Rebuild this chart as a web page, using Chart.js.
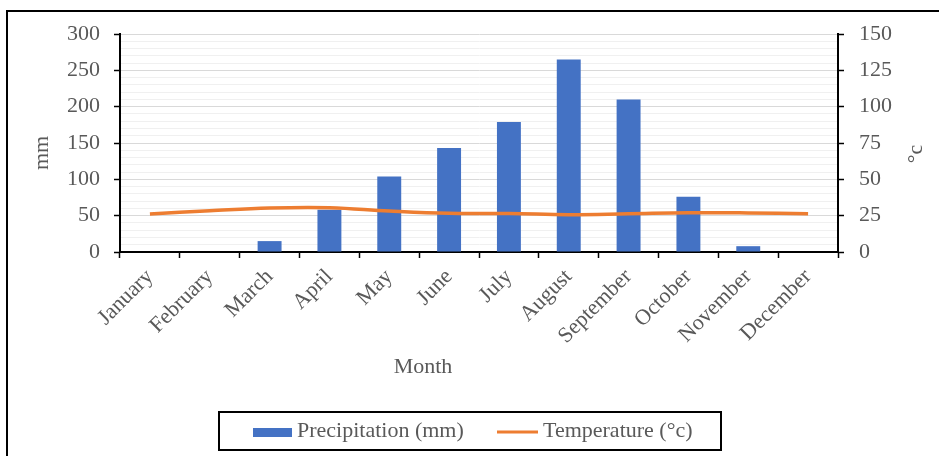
<!DOCTYPE html>
<html>
<head>
<meta charset="utf-8">
<title>Monthly precipitation and temperature</title>
<script src="https://cdn.jsdelivr.net/npm/chart.js@4.4.1/dist/chart.umd.min.js"></script>
<style>
  html, body { margin: 0; padding: 0; background: #fff; }
  #wrap { width: 939px; height: 456px; }
</style>
</head>
<body>
<div id="wrap"><canvas id="chart" width="939" height="456"></canvas></div>
<script>
// Monthly climate data
const months = ['January', 'February', 'March', 'April', 'May', 'June',
                'July', 'August', 'September', 'October', 'November', 'December'];
const precipitationMm = [0, 0, 15, 58, 104, 143, 179, 265, 210, 76, 8, 0];
const temperatureC = [26.2, 28.4, 30.3, 30.5, 28.2, 26.6, 26.5, 25.7, 26.3, 27.0, 26.9, 26.4];

// Axis ranges and titles
const mmRange = [0, 300];
const mmMajorStep = 50;
const mmMinorStep = 10;
const tempRange = [0, 150];
const tempStep = 25;
const seriesNames = ['Precipitation (mm)', 'Temperature (°c)'];
const axisTitles = { left: 'mm', right: '°c', bottom: 'Month' };

const FONT = "'Liberation Serif', 'Times New Roman', serif";
const TEXT = '#595959';
const BAR_BLUE = '#4472C4';
const LINE_ORANGE = '#ED7D31';

Chart.defaults.font.family = FONT;
Chart.defaults.color = TEXT;

// Page frame: thin black rule on the left and top edges
const framePlugin = {
  id: 'frame',
  beforeDraw(chart) {
    const { ctx, width, height } = chart;
    ctx.save();
    ctx.fillStyle = '#fff';
    ctx.fillRect(0, 0, width, height);
    ctx.strokeStyle = '#000';
    ctx.lineWidth = 2;
    ctx.beginPath();
    ctx.moveTo(7, height);
    ctx.lineTo(7, 11);
    ctx.lineTo(width, 11);
    ctx.stroke();
    ctx.restore();
  }
};

// Axis titles, both vertical ones read bottom-to-top
const axisTitlePlugin = {
  id: 'axisTitles',
  afterDraw(chart) {
    const { ctx } = chart;
    ctx.save();
    ctx.fillStyle = TEXT;
    ctx.font = '22px ' + FONT;
    ctx.textAlign = 'center';
    ctx.textBaseline = 'alphabetic';

    ctx.save();
    ctx.translate(48, 153);
    ctx.rotate(-Math.PI / 2);
    ctx.fillText(axisTitles.left, 0, 0);
    ctx.restore();

    ctx.save();
    ctx.translate(922, 154);
    ctx.rotate(-Math.PI / 2);
    ctx.fillText(axisTitles.right, 0, 0);
    ctx.restore();

    ctx.fillText(axisTitles.bottom, 423, 373);
    ctx.restore();
  }
};

// Boxed legend below the plot: bar series first, then the line series
const legendBoxPlugin = {
  id: 'legendBox',
  afterDraw(chart) {
    const { ctx } = chart;
    const ds = chart.data.datasets;
    const bars = ds.find(d => d.type === 'bar');
    const line = ds.find(d => d.type === 'line');
    ctx.save();
    ctx.strokeStyle = '#000';
    ctx.lineWidth = 2;
    ctx.strokeRect(219, 412, 502, 38);

    ctx.fillStyle = bars.backgroundColor;
    ctx.fillRect(253, 428, 39, 9);

    ctx.strokeStyle = line.borderColor;
    ctx.lineWidth = 3;
    ctx.beginPath();
    ctx.moveTo(497, 432);
    ctx.lineTo(538, 432);
    ctx.stroke();

    ctx.fillStyle = TEXT;
    ctx.font = '22px ' + FONT;
    ctx.textAlign = 'left';
    ctx.textBaseline = 'alphabetic';
    ctx.fillText(bars.label, 297, 437);
    ctx.fillText(line.label, 543, 437);
    ctx.restore();
  }
};

new Chart(document.getElementById('chart'), {
  type: 'bar',
  data: {
    labels: months,
    datasets: [
      {
        type: 'bar',
        label: seriesNames[0],
        data: precipitationMm,
        yAxisID: 'y',
        backgroundColor: BAR_BLUE,
        borderWidth: 0,
        barPercentage: 0.4,
        categoryPercentage: 1.0,
        order: 1
      },
      {
        type: 'line',
        label: seriesNames[1],
        data: temperatureC,
        yAxisID: 'y1',
        borderColor: LINE_ORANGE,
        backgroundColor: LINE_ORANGE,
        borderWidth: 3.5,
        pointRadius: 0,
        pointHoverRadius: 0,
        tension: 0.4,
        fill: false,
        order: 0
      }
    ]
  },
  options: {
    responsive: false,
    animation: false,
    devicePixelRatio: 1,
    layout: { padding: { top: 34, left: 0, right: 0, bottom: 0 } },
    plugins: {
      legend: { display: false },
      tooltip: { enabled: false },
      title: { display: false }
    },
    scales: {
      x: {
        type: 'category',
        offset: true,
        afterFit(scale) { scale.height = 204; },
        grid: {
          offset: true,
          drawOnChartArea: false,
          drawTicks: true,
          tickLength: 6,
          tickColor: '#000',
          tickWidth: 1.5
        },
        border: { display: true, color: '#000', width: 2 },
        ticks: {
          autoSkip: false,
          minRotation: 45,
          maxRotation: 45,
          padding: 6,
          color: TEXT,
          font: { size: 22, family: FONT }
        }
      },
      y: {
        position: 'left',
        min: mmRange[0],
        max: mmRange[1],
        afterFit(scale) { scale.width = 120; },
        grid: {
          color: ctx => (ctx.tick && ctx.tick.value % mmMajorStep === 0) ? '#d9d9d9' : '#f0f0f0',
          lineWidth: 1,
          drawTicks: true,
          tickLength: 6,
          tickWidth: 1.5,
          tickColor: ctx => (ctx.tick && ctx.tick.value % mmMajorStep === 0) ? '#000' : 'rgba(0,0,0,0)'
        },
        border: { display: true, color: '#000', width: 2 },
        ticks: {
          stepSize: mmMinorStep,
          autoSkip: false,
          padding: 14,
          color: TEXT,
          font: { size: 22, family: FONT },
          callback: v => (v % mmMajorStep === 0 ? String(v) : '')
        }
      },
      y1: {
        position: 'right',
        min: tempRange[0],
        max: tempRange[1],
        afterFit(scale) { scale.width = 101; },
        grid: {
          drawOnChartArea: false,
          drawTicks: true,
          tickLength: 6,
          tickWidth: 1.5,
          tickColor: '#000'
        },
        border: { display: true, color: '#000', width: 2 },
        ticks: {
          stepSize: tempStep,
          autoSkip: false,
          padding: 15,
          color: TEXT,
          font: { size: 22, family: FONT }
        }
      }
    }
  },
  plugins: [framePlugin, axisTitlePlugin, legendBoxPlugin]
});
</script>
</body>
</html>
